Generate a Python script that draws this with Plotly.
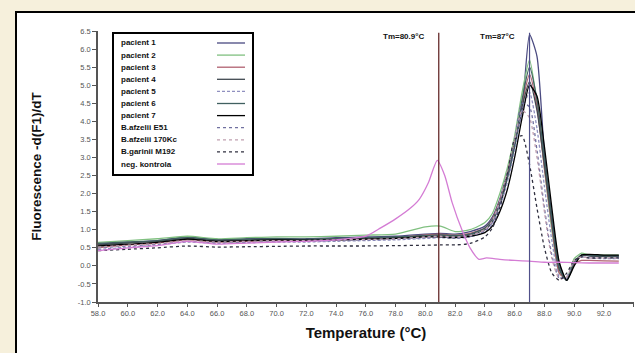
import plotly.graph_objects as go

# ---------------- data ----------------
T = [58, 60, 62, 64, 66, 68, 70, 72, 74, 76, 78, 80, 81, 82, 83, 84, 84.5, 85,
     85.5, 86, 86.5, 87, 87.5, 88, 88.5, 89, 89.5, 90, 90.5, 91, 92, 93]

pacient_1 = [0.60, 0.65, 0.70, 0.80, 0.72, 0.75, 0.76, 0.75, 0.78, 0.80, 0.82, 0.88, 0.90, 0.88, 0.95, 1.10,
             1.35, 1.85, 2.60, 3.40, 4.30, 6.40, 5.80, 3.10, 1.40, 0.05, -0.40, 0.05, 0.30, 0.28, 0.27, 0.26]
pacient_2 = [0.65, 0.70, 0.75, 0.82, 0.75, 0.78, 0.80, 0.80, 0.82, 0.85, 0.88, 1.08, 1.10, 0.95, 1.00, 1.20,
             1.45, 2.00, 2.70, 3.60, 4.80, 5.70, 4.50, 2.70, 1.00, -0.20, -0.35, 0.20, 0.35, 0.30, 0.30, 0.30]
pacient_3 = [0.50, 0.58, 0.63, 0.72, 0.66, 0.68, 0.70, 0.70, 0.72, 0.74, 0.78, 0.86, 0.88, 0.85, 0.90, 1.05,
             1.30, 1.80, 2.50, 3.40, 4.50, 5.30, 4.40, 2.70, 1.10, -0.20, -0.35, 0.05, 0.15, 0.15, 0.14, 0.13]
pacient_4 = [0.58, 0.64, 0.68, 0.76, 0.70, 0.72, 0.73, 0.72, 0.74, 0.76, 0.78, 0.82, 0.84, 0.82, 0.86, 1.00,
             1.22, 1.70, 2.40, 3.30, 4.40, 5.10, 4.30, 2.80, 1.20, -0.10, -0.40, 0.10, 0.30, 0.28, 0.26, 0.25]
pacient_5 = [0.45, 0.52, 0.58, 0.66, 0.62, 0.64, 0.66, 0.66, 0.68, 0.70, 0.72, 0.76, 0.78, 0.76, 0.80, 0.95,
             1.15, 1.60, 2.30, 3.20, 4.30, 4.80, 3.80, 2.20, 0.70, -0.30, -0.35, 0.10, 0.25, 0.22, 0.20, 0.20]
pacient_6 = [0.62, 0.66, 0.70, 0.78, 0.72, 0.74, 0.75, 0.74, 0.76, 0.78, 0.80, 0.84, 0.86, 0.84, 0.88, 1.05,
             1.28, 1.75, 2.45, 3.35, 4.60, 5.50, 4.60, 3.00, 1.30, -0.05, -0.40, 0.10, 0.30, 0.30, 0.28, 0.28]
pacient_7 = [0.55, 0.60, 0.65, 0.74, 0.68, 0.70, 0.72, 0.71, 0.72, 0.74, 0.76, 0.80, 0.80, 0.78, 0.82, 0.92,
             1.10, 1.50, 2.10, 3.00, 4.10, 5.00, 4.70, 3.30, 1.60, 0.10, -0.40, 0.00, 0.30, 0.32, 0.30, 0.30]
afzelii_E51 = [0.50, 0.55, 0.60, 0.68, 0.64, 0.66, 0.68, 0.68, 0.70, 0.72, 0.74, 0.78, 0.80, 0.78, 0.82, 0.98,
               1.20, 1.70, 2.50, 3.50, 4.50, 4.40, 3.20, 1.60, 0.30, -0.35, -0.30, 0.15, 0.25, 0.22, 0.22, 0.22]
afzelii_170Kc = [0.52, 0.57, 0.62, 0.70, 0.66, 0.68, 0.70, 0.70, 0.72, 0.73, 0.75, 0.80, 0.82, 0.80, 0.84, 1.00,
                 1.25, 1.80, 2.60, 3.50, 4.30, 4.10, 3.00, 1.50, 0.20, -0.35, -0.30, 0.15, 0.25, 0.22, 0.22, 0.22]
garinii_M192 = [0.42, 0.46, 0.50, 0.55, 0.52, 0.53, 0.54, 0.55, 0.55, 0.55, 0.56, 0.57, 0.58, 0.58, 0.62, 0.80,
                1.05, 1.60, 2.50, 3.50, 3.60, 2.80, 1.60, 0.50, -0.20, -0.40, -0.20, 0.15, 0.25, 0.22, 0.22, 0.22]

T_neg = [58, 60, 62, 64, 66, 68, 70, 72, 74, 76, 77, 78, 79, 79.6, 80.2, 80.8, 81.3, 81.8, 82.5, 83,
         83.6, 84.1, 85, 86, 87, 88, 89, 90, 91, 92, 93]
neg_kontrola = [0.42, 0.50, 0.56, 0.68, 0.60, 0.63, 0.66, 0.68, 0.72, 0.82, 1.05, 1.30, 1.60, 1.85, 2.30, 2.92,
                2.50, 1.75, 0.95, 0.50, 0.18, 0.22, 0.18, 0.15, 0.13, 0.10, 0.10, 0.09, 0.08, 0.08, 0.08]

names = ["pacient 1", "pacient 2", "pacient 3", "pacient 4", "pacient 5", "pacient 6", "pacient 7",
         "B.afzelii E51", "B.afzelii 170Kc", "B.garinii M192", "neg. kontrola"]
series = [pacient_1, pacient_2, pacient_3, pacient_4, pacient_5, pacient_6, pacient_7,
          afzelii_E51, afzelii_170Kc, garinii_M192, neg_kontrola]
xs = [T] * 10 + [T_neg]
colors = ["#4a4a80", "#80c080", "#b06070", "#404850", "#9090c0", "#406060", "#000000",
          "#7070a0", "#c0a0b0", "#303040", "#d47cd4"]
dashes = ["solid", "solid", "solid", "solid", "3px,2px", "solid", "solid", "dot", "dot", "dot", "solid"]

tm_values = [80.9, 87.0]
tm_labels = ["Tm=80.9°C", "Tm=87°C"]
tm_colors = ["#5a1a1a", "#50508a"]

x_ticks = [58 + 2 * i for i in range(19)]
y_ticks = [-1.0 + 0.5 * i for i in range(16)]

# ---------------- layout helpers ----------------
W, H = 635, 353
L, R, TOP, B = 98, 634, 31, 302


def px(x):
    return (x - L) / (R - L)


def py(y):
    return (B - y) / (B - TOP)


fig = go.Figure()
for x, y, n, c, d in zip(xs, series, names, colors, dashes):
    fig.add_trace(go.Scatter(x=x, y=y, name=n, mode="lines",
                             line=dict(color=c, width=1.3, dash=d, shape="spline", smoothing=0.6),
                             showlegend=False))

shapes = []
# white chart panel with black border
shapes.append(dict(type="rect", xref="paper", yref="paper", x0=px(16), x1=px(645), y0=py(365), y1=py(12),
                   fillcolor="white", line=dict(color="black", width=2), layer="below"))
# Tm lines
for v, c in zip(tm_values, tm_colors):
    shapes.append(dict(type="line", xref="x", yref="y", x0=v, x1=v, y0=-1.0, y1=6.45,
                       line=dict(color=c, width=1.2)))
# legend box
shapes.append(dict(type="rect", xref="paper", yref="paper", x0=px(113), x1=px(253), y0=py(175), y1=py(33),
                   fillcolor="white", line=dict(color="black", width=2)))

annotations = []
for v, t in zip([78.5, 84.85], tm_labels):
    annotations.append(dict(x=v, y=6.34, xref="x", yref="y", text="<b>%s</b>" % t, showarrow=False,
                            font=dict(family="Liberation Sans, Arial", size=8, color="#111")))

for i, (n, c, d) in enumerate(zip(names, colors, dashes)):
    yy = 43 + i * 12.1
    annotations.append(dict(x=px(119), y=py(yy), xref="paper", yref="paper", text="<b>%s</b>" % n,
                            showarrow=False, xanchor="left", yanchor="middle",
                            font=dict(family="Liberation Sans, Arial", size=8, color="#111")))
    shapes.append(dict(type="line", xref="paper", yref="paper", x0=px(217), x1=px(245), y0=py(yy), y1=py(yy),
                       line=dict(color=c, width=1.3, dash=d)))

fig.update_layout(
    width=W, height=H,
    margin=dict(l=L, r=W - R, t=TOP, b=H - B),
    paper_bgcolor="#f6f0dc",
    plot_bgcolor="rgba(0,0,0,0)",
    shapes=shapes, annotations=annotations,
    showlegend=False,
    xaxis=dict(range=[58, 94.02], tickvals=x_ticks, ticktext=["%.1f" % v for v in x_ticks],
               showgrid=False, zeroline=False, showline=True, linecolor="#555", linewidth=1.5,
               ticks="outside", ticklen=3, tickcolor="#555",
               tickfont=dict(family="Liberation Sans, Arial", size=7.5, color="#555"),
               title=dict(text="<b>Temperature (°C)</b>", standoff=11,
                          font=dict(family="Liberation Sans, Arial", size=15, color="#111"))),
    yaxis=dict(range=[-1.0, 6.5], tickvals=y_ticks, ticktext=["%.1f" % v for v in y_ticks],
               showgrid=False, zeroline=False, showline=True, linecolor="#555", linewidth=1.5,
               ticks="outside", ticklen=4, tickcolor="#555",
               tickfont=dict(family="Liberation Sans, Arial", size=7.5, color="#555"),
               title=dict(text="<b>Fluorescence -d(F1)/dT</b>", standoff=33,
                          font=dict(family="Liberation Sans, Arial", size=13.5, color="#111"))),
)

fig.write_html("out.html")
